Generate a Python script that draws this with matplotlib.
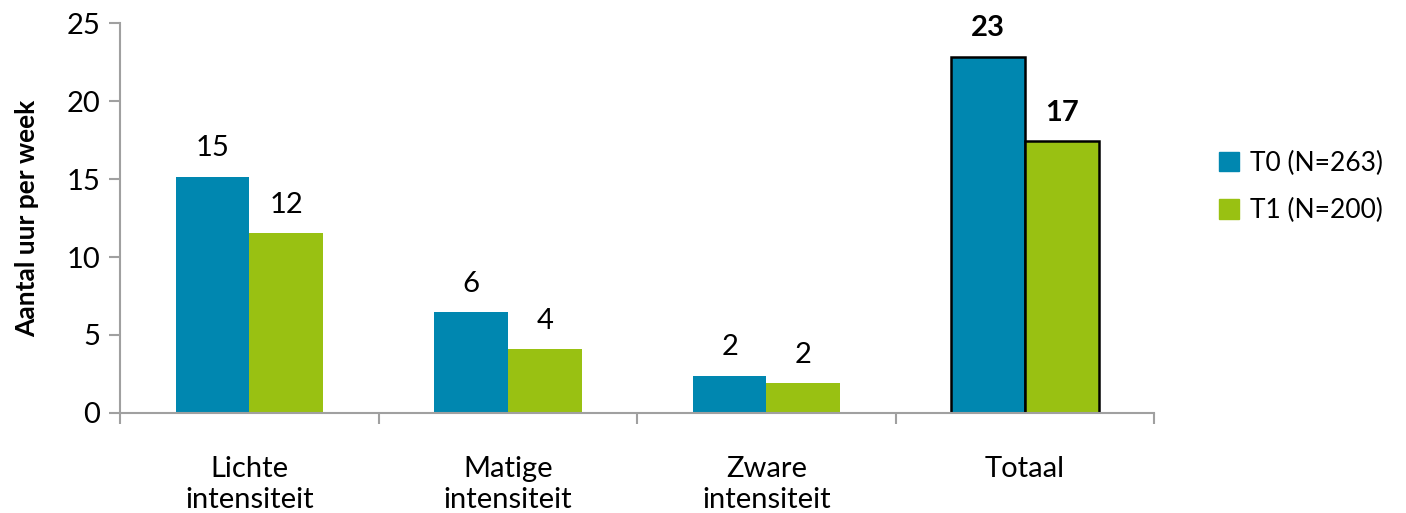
import matplotlib.pyplot as plt
import numpy as np

plt.rcParams['font.family'] = ['Lato', 'DejaVu Sans']

categories = ['Lichte\nintensiteit', 'Matige\nintensiteit', 'Zware\nintensiteit', 'Totaal']
t0 = [15.15, 6.45, 2.4, 22.85]
t1 = [11.55, 4.1, 1.9, 17.45]
t0_labels = ['15', '6', '2', '23']
t1_labels = ['12', '4', '2', '17']
series_names = ['T0 (N=263)', 'T1 (N=200)']

blue = '#0087B0'
green = '#99C112'
grey = '#A0A0A0'
fs = 21

fig = plt.figure(figsize=(14.06, 5.13), dpi=100)
ax = fig.add_axes([0.0853, 0.195, 0.7357, 0.76])

x = np.arange(len(categories))
w = 0.285
edge0 = ['none'] * 3 + ['black']
ax.bar(x - w / 2, t0, w, color=blue, label=series_names[0],
       edgecolor=edge0, linewidth=[0, 0, 0, 1.8])
ax.bar(x + w / 2, t1, w, color=green, label=series_names[1],
       edgecolor=edge0, linewidth=[0, 0, 0, 1.8])

for i in range(len(categories)):
    wt = 'bold' if i == 3 else 'normal'
    ax.annotate(t0_labels[i], (x[i] - w / 2, t0[i]), xytext=(0, 11),
                textcoords='offset points', ha='center', va='bottom',
                fontsize=fs, fontweight=wt)
    ax.annotate(t1_labels[i], (x[i] + w / 2, t1[i]), xytext=(0, 11),
                textcoords='offset points', ha='center', va='bottom',
                fontsize=fs, fontweight=wt)

ax.set_xlim(-0.5, 3.5)
ax.set_ylim(0, 25)
ax.set_yticks(range(0, 26, 5))
ax.set_xticks(x)
ax.set_xticklabels(categories, fontsize=fs, linespacing=1.25)
ax.set_xticks(np.arange(-0.5, 4, 1), minor=True)
ax.tick_params(axis='x', which='major', length=0, pad=31)
ax.tick_params(axis='x', which='minor', length=8, width=1.5, color=grey, direction='out')
ax.tick_params(axis='y', length=8, width=1.5, color=grey, labelsize=fs, pad=6)

for s in ['top', 'right']:
    ax.spines[s].set_visible(False)
for s in ['left', 'bottom']:
    ax.spines[s].set_color(grey)
    ax.spines[s].set_linewidth(1.5)

ax.set_ylabel('Aantal uur per week', fontsize=19, fontweight='bold')
ax.yaxis.set_label_coords(-0.078, 0.5)

h0 = plt.Rectangle((0, 0), 1, 1, color=blue)
h1 = plt.Rectangle((0, 0), 1, 1, color=green)
ax.legend([h0, h1], series_names, loc='center left', bbox_to_anchor=(1.04, 0.58),
          frameon=False, fontsize=19, handlelength=0.75, handleheight=0.75,
          handletextpad=0.4, labelspacing=0.85)

plt.savefig('out.png', dpi=100)
